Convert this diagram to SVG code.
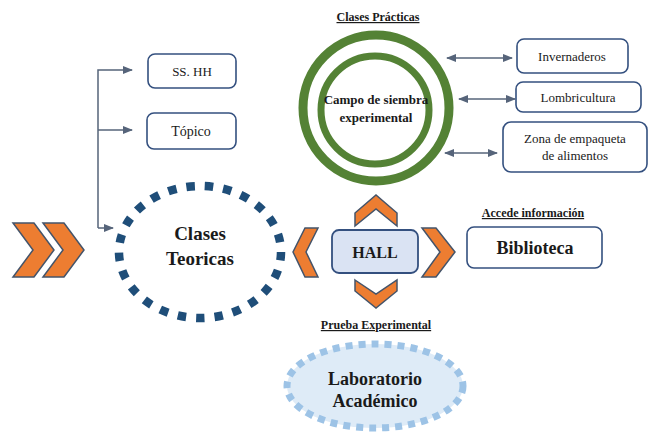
<svg xmlns="http://www.w3.org/2000/svg" width="648" height="433" viewBox="0 0 648 433" font-family="'Liberation Serif', 'DejaVu Serif', serif">
  <style>
    text { font-family: 'Liberation Serif', 'DejaVu Serif', serif; }
    .t { fill: #1a1a1a; text-anchor: middle; }
    .b { font-weight: bold; }
    .u { text-decoration: underline; }
    .box { fill: #ffffff; stroke: #34507f; stroke-width: 1.6; }
    .chev { fill: #ed7d31; stroke: #44546a; stroke-width: 1.5; stroke-linejoin: miter; }
    .link { fill: none; stroke: #56647a; stroke-width: 1.5; }
  </style>
  <defs>
    <marker id="arr" markerWidth="10" markerHeight="8" refX="9" refY="4" orient="auto-start-reverse" markerUnits="userSpaceOnUse">
      <path d="M0,0 L10,4 L0,8 z" fill="#56647a"/>
    </marker>
  </defs>
  <rect width="648" height="433" fill="#ffffff"/>

  <!-- entry chevrons -->
  <g id="entrada">
    <polygon class="chev" points="13,223 34,223 54,250 34,277 13,277 33,250"/>
    <polygon class="chev" points="43,223 64,223 84,250 64,277 43,277 63,250"/>
  </g>

  <!-- connectors -->
  <g id="connectors">
    <polyline class="link" points="98,228 98,70 132,70" marker-end="url(#arr)"/>
    <line class="link" x1="98" y1="130" x2="132" y2="130" marker-end="url(#arr)"/>
    <line class="link" x1="98" y1="228" x2="113" y2="228" marker-end="url(#arr)"/>
    <line class="link" x1="447" y1="58" x2="512" y2="58" marker-start="url(#arr)" marker-end="url(#arr)"/>
    <line class="link" x1="459" y1="99" x2="515" y2="99" marker-start="url(#arr)" marker-end="url(#arr)"/>
    <line class="link" x1="445" y1="153" x2="497" y2="153" marker-start="url(#arr)" marker-end="url(#arr)"/>
  </g>

  <g id="ss-hh">
    <rect class="box" x="148" y="54" width="88" height="34" rx="7"/>
    <text class="t" x="192" y="76" font-size="13">SS. HH</text>
  </g>

  <g id="topico">
    <rect class="box" x="147" y="113" width="89" height="36" rx="7"/>
    <text class="t" x="191" y="136" font-size="14">Tópico</text>
  </g>

  <g id="clases-teoricas">
    <ellipse cx="200" cy="252" rx="81" ry="66" fill="#ffffff" stroke="#1f4e79" stroke-width="8.5" stroke-dasharray="8.5 10"/>
    <text class="t b" x="200" y="240" font-size="19">Clases</text>
    <text class="t b" x="200" y="265" font-size="19">Teoricas</text>
  </g>

  <g id="clases-practicas">
    <text class="t b u" x="378" y="21" font-size="12">Clases Prácticas</text>
    <circle cx="376" cy="108" r="73" fill="none" stroke="#548235" stroke-width="9"/>
    <circle cx="375" cy="110" r="54" fill="none" stroke="#548235" stroke-width="7"/>
    <text class="t b" x="376" y="104" font-size="13">Campo de siembra</text>
    <text class="t b" x="376" y="122" font-size="13">experimental</text>
  </g>

  <g id="invernaderos">
    <rect class="box" x="517" y="39" width="111" height="34" rx="7"/>
    <text class="t" x="572" y="61" font-size="13">Invernaderos</text>
  </g>

  <g id="lombricultura">
    <rect class="box" x="516" y="82" width="125" height="30" rx="7"/>
    <text class="t" x="578" y="102" font-size="13">Lombricultura</text>
  </g>

  <g id="zona-empaque">
    <rect class="box" x="503" y="122" width="144" height="50" rx="8"/>
    <text class="t" x="575" y="143" font-size="13">Zona de empaqueta</text>
    <text class="t" x="575" y="160" font-size="13">de alimentos</text>
  </g>

  <g id="hall">
    <polygon class="chev" points="355,213 376,195 397,213 397,226 376,209 355,226"/>
    <polygon class="chev" points="355,280 376,294 397,280 397,291 376,308 355,291"/>
    <polygon class="chev" points="305,228 318,228 306,252 318,277 305,277 293,252"/>
    <polygon class="chev" points="422,228 436,228 455,252 436,277 422,277 440,252"/>
    <rect x="332" y="230" width="86" height="43" rx="7" fill="#dae3f3" stroke="#34507f" stroke-width="1.8"/>
    <text class="t b" x="375" y="258" font-size="16">HALL</text>
  </g>

  <g id="biblioteca">
    <text class="t b u" x="533" y="217" font-size="12">Accede información</text>
    <rect class="box" x="467" y="227" width="135" height="41" rx="7"/>
    <text class="t b" x="535" y="254" font-size="18">Biblioteca</text>
  </g>

  <g id="laboratorio">
    <text class="t b u" x="376" y="329" font-size="12">Prueba Experimental</text>
    <ellipse cx="375" cy="386" rx="88" ry="42" fill="#deebf7" stroke="#9dc3e6" stroke-width="7" stroke-dasharray="7 6"/>
    <text class="t b" x="375" y="385" font-size="18">Laboratorio</text>
    <text class="t b" x="375" y="407" font-size="18">Académico</text>
  </g>
</svg>
